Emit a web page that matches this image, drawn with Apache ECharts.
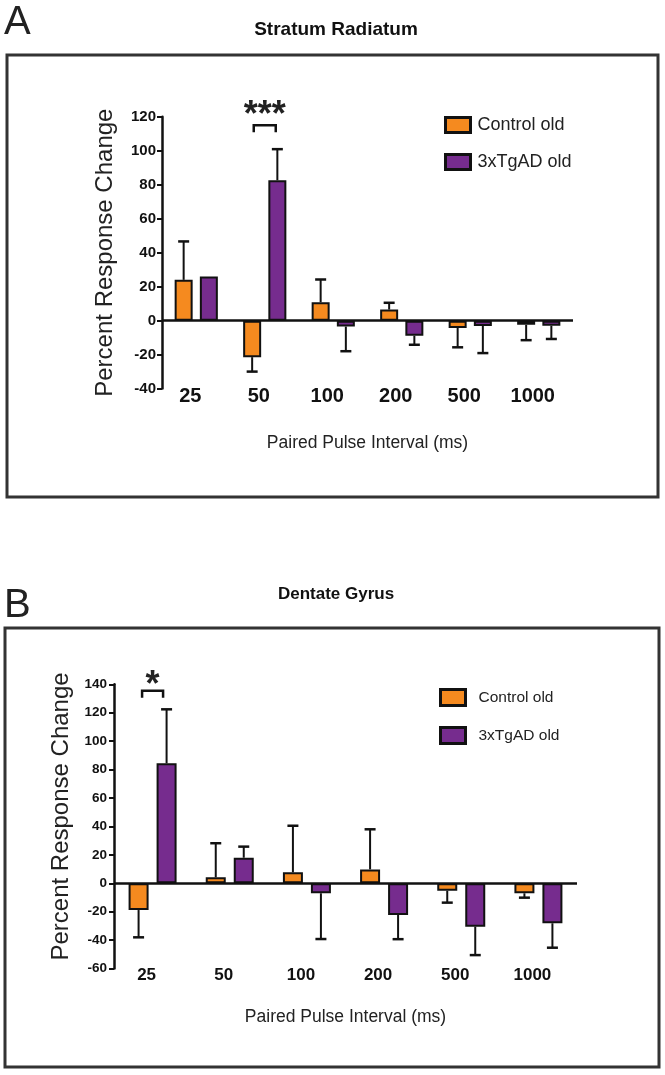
<!DOCTYPE html>
<html><head><meta charset="utf-8">
<script src="https://cdn.jsdelivr.net/npm/echarts@6/dist/echarts.min.js"></script>
<style>html,body{margin:0;padding:0;background:#fff}#c{width:665px;height:1075px}</style>
</head><body><div id="c"></div>
<script>
// ---------- data ----------
const categories = ['25', '50', '100', '200', '500', '1000'];
const seriesNames = ['Control old', '3xTgAD old'];

// Panel A: Stratum Radiatum
const controlA    = [24, -21.5, 10.8, 6.5, -4.3, -2.5];
const controlErrA = [22.6, 8.5, 13.4, 4, 11.4, 9];
const tgA         = [26, 82.6, -3.5, -8.9, -3.1, -3];
const tgErrA      = [0, 18.3, 14.5, 5.3, 16, 7.8];
const sigA = { category: '50', level: 115, text: '***' };

// Panel B: Dentate Gyrus
const controlB    = [-18.8, 4.2, 7.7, 9.8, -5.2, -7];
const controlErrB = [19.2, 24, 32.8, 28.2, 8.4, 3.1];
const tgB         = [84.4, 18, -7, -22.3, -30.5, -28.1];
const tgErrB      = [38, 7.8, 32.2, 17, 20, 17.2];
const sigB = { category: '25', level: 135.5, text: '*' };

// ---------- styling ----------
const ORANGE = '#F58A1F';
const PURPLE = '#762C8E';
const INK = '#111';
const SANS = '"Liberation Sans", Arial, Helvetica, sans-serif';
const GAP = 0.4;

const chart = echarts.init(document.getElementById('c'), null, { renderer: 'canvas' });

function barSeries(name, color, vals, g, w, withZero) {
  const s = {
    name, type: 'bar', xAxisIndex: g, yAxisIndex: g,
    data: vals, barWidth: w, barGap: (GAP * 100) + '%',
    itemStyle: { color, borderColor: INK, borderWidth: 2 },
    z: 2
  };
  if (withZero) {
    s.markLine = {
      silent: true, symbol: 'none', animation: false,
      label: { show: false },
      lineStyle: { color: INK, width: 2.5, type: 'solid' },
      data: [{ yAxis: 0 }]
    };
  }
  return s;
}

function errSeries(g, vals, errs, side, w) {
  return {
    type: 'custom', xAxisIndex: g, yAxisIndex: g, silent: true, z: 3,
    data: vals.map((v, i) => [i, v, v + Math.sign(v) * errs[i]]),
    encode: { x: 0, y: [1, 2] },
    renderItem(params, api) {
      const i = api.value(0), v = api.value(1), e = api.value(2);
      if (v === e) return null;
      const c = api.coord([i, v]);
      const t = api.coord([i, e]);
      const x = c[0] + side * (w * (1 + GAP)) / 2;
      return {
        type: 'group', children: [
          { type: 'line', shape: { x1: x, y1: c[1], x2: x, y2: t[1] }, style: { stroke: INK, lineWidth: 2 } },
          { type: 'line', shape: { x1: x - 5.5, y1: t[1], x2: x + 5.5, y2: t[1] }, style: { stroke: INK, lineWidth: 2.5 } }
        ]
      };
    }
  };
}

function sigSeries(g, sig, halfW, leg, starGap) {
  return {
    type: 'custom', xAxisIndex: g, yAxisIndex: g, silent: true, z: 4,
    data: [[categories.indexOf(sig.category), sig.level]],
    renderItem(params, api) {
      const p = api.coord([api.value(0), api.value(1)]);
      return {
        type: 'group', children: [
          { type: 'polyline', shape: { points: [[p[0] - halfW, p[1] + leg], [p[0] - halfW, p[1]], [p[0] + halfW, p[1]], [p[0] + halfW, p[1] + leg]] },
            style: { stroke: INK, lineWidth: 2.5, fill: null } },
          { type: 'text', x: p[0], y: p[1] - starGap,
            style: { text: sig.text, fill: '#222', font: 'bold 36px ' + SANS, align: 'center', verticalAlign: 'bottom' } }
        ]
      };
    }
  };
}

function yAxis(g, min, max, labelSize, margin, gap, shift) {
  return {
    type: 'value', gridIndex: g, min, max, interval: 20,
    name: 'Percent Response Change', nameLocation: 'middle', nameGap: gap,
    nameTextStyle: { fontFamily: SANS, fontSize: 24, color: '#222', padding: [0, 0, 0, shift] },
    axisLine: { show: true, lineStyle: { color: INK, width: 2.5 } },
    axisTick: { show: true, length: 5, lineStyle: { color: INK, width: 2 } },
    axisLabel: { fontFamily: SANS, fontWeight: 'bold', fontSize: labelSize, color: '#111', margin },
    splitLine: { show: false }
  };
}

function xAxis(g, size, margin, nameGap) {
  return {
    type: 'category', gridIndex: g, data: categories,
    axisLine: { show: false }, axisTick: { show: false },
    axisLabel: { fontFamily: SANS, fontWeight: 'bold', fontSize: size, color: '#111', margin, padding: [0, 12, 0, 0] },
    name: 'Paired Pulse Interval (ms)', nameLocation: 'middle', nameGap,
    nameTextStyle: { fontFamily: SANS, fontSize: 17.5, color: '#222' }
  };
}

const option = {
  animation: false,
  backgroundColor: '#fff',
  title: [
    { text: 'A', left: 4, top: 3, padding: 0, textStyle: { fontFamily: SANS, fontSize: 40, fontWeight: 'normal', color: '#222' } },
    { text: 'Stratum Radiatum', left: 336, textAlign: 'center', top: 20, padding: 0, textStyle: { fontFamily: SANS, fontSize: 19, fontWeight: 'bold', color: '#111' } },
    { text: 'B', left: 4, top: 586, padding: 0, textStyle: { fontFamily: SANS, fontSize: 40, fontWeight: 'normal', color: '#222' } },
    { text: 'Dentate Gyrus', left: 336, textAlign: 'center', top: 586, padding: 0, textStyle: { fontFamily: SANS, fontSize: 17, fontWeight: 'bold', color: '#111' } }
  ],
  legend: [
    { data: seriesNames, orient: 'vertical', left: 444, top: 116, padding: 0, itemGap: 19,
      itemWidth: 25, itemHeight: 15, icon: 'rect', itemStyle: { borderColor: INK, borderWidth: 3 },
      textStyle: { fontFamily: SANS, fontSize: 18, color: '#222', padding: [0, 0, 0, 2] } },
    { data: seriesNames, orient: 'vertical', left: 439, top: 688, padding: 0, itemGap: 19,
      itemWidth: 25, itemHeight: 16, icon: 'rect', itemStyle: { borderColor: INK, borderWidth: 3 },
      textStyle: { fontFamily: SANS, fontSize: 15.5, color: '#222', padding: [0, 0, 0, 8] } }
  ],
  graphic: [
    { type: 'rect', shape: { x: 7, y: 55, width: 651, height: 442 }, style: { stroke: '#333', lineWidth: 3, fill: null }, silent: true },
    { type: 'rect', shape: { x: 5, y: 628, width: 654, height: 439 }, style: { stroke: '#333', lineWidth: 3, fill: null }, silent: true }
  ],
  grid: [
    { left: 162, right: 92, top: 116.7, height: 271.9, containLabel: false },
    { left: 114, right: 88, top: 684.3, height: 284.3, containLabel: false }
  ],
  xAxis: [
    xAxis(0, 20, -2, 46),
    xAxis(1, 17, -2, 40)
  ],
  yAxis: [
    yAxis(0, -40, 120, 15, 6, 45, 0),
    yAxis(1, -60, 140, 13.5, 7, 38, 20)
  ],
  series: [
    barSeries(seriesNames[0], ORANGE, controlA, 0, 18, true),
    barSeries(seriesNames[1], PURPLE, tgA, 0, 18, false),
    errSeries(0, controlA, controlErrA, -1, 18),
    errSeries(0, tgA, tgErrA, 1, 18),
    sigSeries(0, sigA, 11, 7, -9),
    barSeries(seriesNames[0], ORANGE, controlB, 1, 20, true),
    barSeries(seriesNames[1], PURPLE, tgB, 1, 20, false),
    errSeries(1, controlB, controlErrB, -1, 20),
    errSeries(1, tgB, tgErrB, 1, 20),
    sigSeries(1, sigB, 10.5, 7, -13)
  ]
};
chart.setOption(option);
</script>
</body></html>
